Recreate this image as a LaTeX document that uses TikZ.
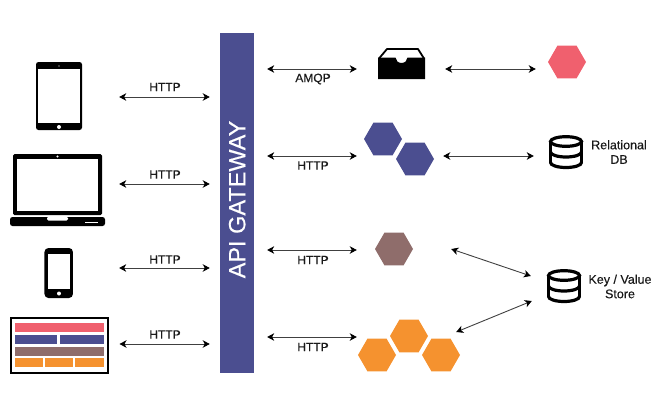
\documentclass[tikz,border=0pt]{standalone}
\usepackage{fontspec}
\setmainfont[FakeBold=0.35]{Liberation Sans}
\usetikzlibrary{arrows.meta,shapes.geometric}
\definecolor{gatewayblue}{HTML}{4B4E90}
\definecolor{hexred}{HTML}{F0606E}
\definecolor{hexbrown}{HTML}{8F6D6B}
\definecolor{hexorange}{HTML}{F5922F}
\tikzset{
  dbicon/.pic={
    \draw[line width=3.2pt,fill=white] (0,-11.5) ellipse (15.5 and 4.8);
    \draw[line width=3.2pt] (-15.5,-11.5) -- (-15.5,9.5) (15.5,-11.5) -- (15.5,9.5);
    \foreach \layer in {-1,9.5}
      \draw[line width=3.2pt] (-15.5,\layer) arc[start angle=180,end angle=0,x radius=15.5,y radius=5];
  },
  inboxicon/.pic={
    \draw[line width=1.8pt,line join=round] (-22.5,-5) -- (-14.5,-14.5) -- (16.5,-14.5) -- (22.5,-5);
    \fill (-23.5,-6) -- (-6,-6) arc[start angle=180,end angle=0,x radius=6,y radius=5.5] -- (23.5,-6) -- (23.5,15.5) -- (-23.5,15.5) -- cycle;
  }
}
\begin{document}
\begin{tikzpicture}[x=1pt,y=-1pt,
  hexa/.style={regular polygon,regular polygon sides=6,minimum size=38pt,inner sep=0pt},
  plate/.style={fill=black,rounded corners=2.5pt,inner sep=0pt},
  screen/.style={fill=white,inner sep=0pt},
  band/.style={inner sep=0pt,minimum height=9pt},
  proto/.style={font=\fontsize{12}{14}\selectfont,text=black!90,inner sep=0pt},
  store/.style={font=\fontsize{12.5}{14.5}\selectfont,text=black!90,inner sep=0pt,align=center},
  link/.style={draw=black!75,line width=0.9pt,{Stealth[length=7pt,width=7.5pt,inset=2pt,color=black]}-{Stealth[length=7pt,width=7.5pt,inset=2pt,color=black]}}]
\useasboundingbox (0,0) rectangle (660,412);
% rows of the arrows
\coordinate (lrow1) at (0,97);
\coordinate (lrow2) at (0,184);
\coordinate (lrow3) at (0,268);
\coordinate (lrow4) at (0,344);
\coordinate (rrow1) at (0,69);
\coordinate (rrow2) at (0,156);
\coordinate (rrow3) at (0,250);
\coordinate (rrow4) at (0,337);
% gateway
\node[fill=gatewayblue,text=white,inner sep=0pt,minimum width=34.5pt,minimum height=340pt,font=\fontsize{23.5}{25}\selectfont] (gateway) at (237.2,203) {\rotatebox{90}{\hspace{7pt}API GATEWAY}};
% tablet
\node[plate,minimum width=46pt,minimum height=68pt] (tablet) at (59,96) {};
\node[screen,minimum width=41.5pt,minimum height=54pt] (tabletscreen) at (59,96) {};
\node[circle,fill=white,inner sep=0pt,minimum size=4pt] (tablethome) at (59,127) {};
\node[circle,fill=white,inner sep=0pt,minimum size=1.4pt] (tabletcam) at (59,66) {};
% laptop
\node[plate,rounded corners=1.5pt,minimum width=89pt,minimum height=61pt] (laptop) at (57.5,184.5) {};
\node[screen,minimum width=81pt,minimum height=52pt] (laptopscreen) at (57.5,185) {};
\node[circle,fill=white,inner sep=0pt,minimum size=2.4pt] (laptopcam) at (57.5,156.5) {};
\node[plate,minimum width=95pt,minimum height=9pt] (laptopbase) at (57.5,221.5) {};
\node[screen,rounded corners=1.5pt,minimum width=21pt,minimum height=4pt] (laptopnotch) at (57.5,218.5) {};
\node[screen,minimum width=13pt,minimum height=1.4pt] (laptopbar) at (91.5,222.5) {};
% phone
\node[plate,rounded corners=4pt,minimum width=28.5pt,minimum height=50pt] (phone) at (58.7,273) {};
\node[screen,minimum width=22pt,minimum height=35pt] (phonescreen) at (59,271.5) {};
\node[circle,fill=white,inner sep=0pt,minimum size=4pt] (phonehome) at (59,293.5) {};
% web page
\node[draw=black,line width=1.6pt,inner sep=0pt,minimum width=97pt,minimum height=55pt] (web) at (59.2,345.5) {};
\node[band,fill=hexred,minimum width=89pt] (webred) at (59.5,327.5) {};
\node[band,fill=gatewayblue,minimum width=42.5pt] (webblue1) at (36.2,339.5) {};
\node[band,fill=gatewayblue,minimum width=44pt] (webblue2) at (82,339.5) {};
\node[band,fill=hexbrown,minimum width=89pt] (webbrown) at (59.5,351.5) {};
\node[band,fill=hexorange,minimum width=28pt] (weborange1) at (29,362.5) {};
\node[band,fill=hexorange,minimum width=28pt] (weborange2) at (59,362.5) {};
\node[band,fill=hexorange,minimum width=29pt] (weborange3) at (89.5,362.5) {};
% services
\node[inner sep=0pt,minimum width=47pt,minimum height=31pt] (inbox) at (401.5,63.5) {};
\pic at (inbox) {inboxicon};
\node[hexa,fill=hexred] (redhex) at (567,62) {};
\node[hexa,fill=gatewayblue] (bluehex1) at (383,139) {};
\node[hexa,fill=gatewayblue] (bluehex2) at (415,159) {};
\node[hexa,fill=hexbrown] (brownhex) at (394,249) {};
\node[hexa,fill=hexorange] (orangehex1) at (377,355) {};
\node[hexa,fill=hexorange] (orangehex2) at (409,336) {};
\node[hexa,fill=hexorange] (orangehex3) at (441,355) {};
% stores
\node[inner sep=0pt,minimum size=34pt] (reldb) at (566,153) {};
\pic at (reldb) {dbicon};
\node[inner sep=0pt,minimum size=34pt] (kvdb) at (564,287) {};
\pic at (kvdb) {dbicon};
\node[store] (reldblabel) at (619,152) {Relational\\DB};
\node[store] (kvdblabel) at (620,286.5) {Key / Value\\Store};
% labels
\node[proto] (http1) at (165,87) {HTTP};
\node[proto] (http2) at (165,174.5) {HTTP};
\node[proto] (http3) at (165,259.5) {HTTP};
\node[proto] (http4) at (165,334.5) {HTTP};
\node[proto] (amqp) at (313,79) {AMQP};
\node[proto] (http5) at (313,165.5) {HTTP};
\node[proto] (http6) at (313,260) {HTTP};
\node[proto] (http7) at (313,347) {HTTP};
% connectors
\draw[link,shorten <=37pt,shorten >=10pt] (tablet.east |- lrow1) -- (gateway.west |- lrow1);
\draw[link,shorten <=17pt,shorten >=10pt] (laptop.east |- lrow2) -- (gateway.west |- lrow2);
\draw[link,shorten <=46pt,shorten >=10pt] (phone.east |- lrow3) -- (gateway.west |- lrow3);
\draw[link,shorten <=11pt,shorten >=10pt] (web.east |- lrow4) -- (gateway.west |- lrow4);
\draw[link,shorten <=12.5pt,shorten >=21pt] (gateway.east |- rrow1) -- (inbox.west |- rrow1);
\draw[link,shorten <=12.5pt,shorten >=7pt] (gateway.east |- rrow2) -- (bluehex1.west |- rrow2);
\draw[link,shorten <=12.5pt,shorten >=18pt] (gateway.east |- rrow3) -- (brownhex.west |- rrow3);
\draw[link,shorten <=12.5pt,shorten >=1pt] (gateway.east |- rrow4) -- (orangehex1.west |- rrow4);
\draw[link,shorten <=20pt,shorten >=12pt] (inbox.east |- rrow1) -- (redhex.west |- rrow1);
\draw[link,shorten <=9pt,shorten >=15pt] (bluehex2.east |- rrow2) -- (reldb.west |- rrow2);
\draw[link] ([xshift=38pt]brownhex.east) -- ([xshift=-16pt,yshift=11pt]kvdb.west);
\draw[link] ([xshift=-4pt,yshift=23pt]orangehex3.east) -- ([xshift=-15pt,yshift=-14pt]kvdb.west);
\end{tikzpicture}
\end{document}
